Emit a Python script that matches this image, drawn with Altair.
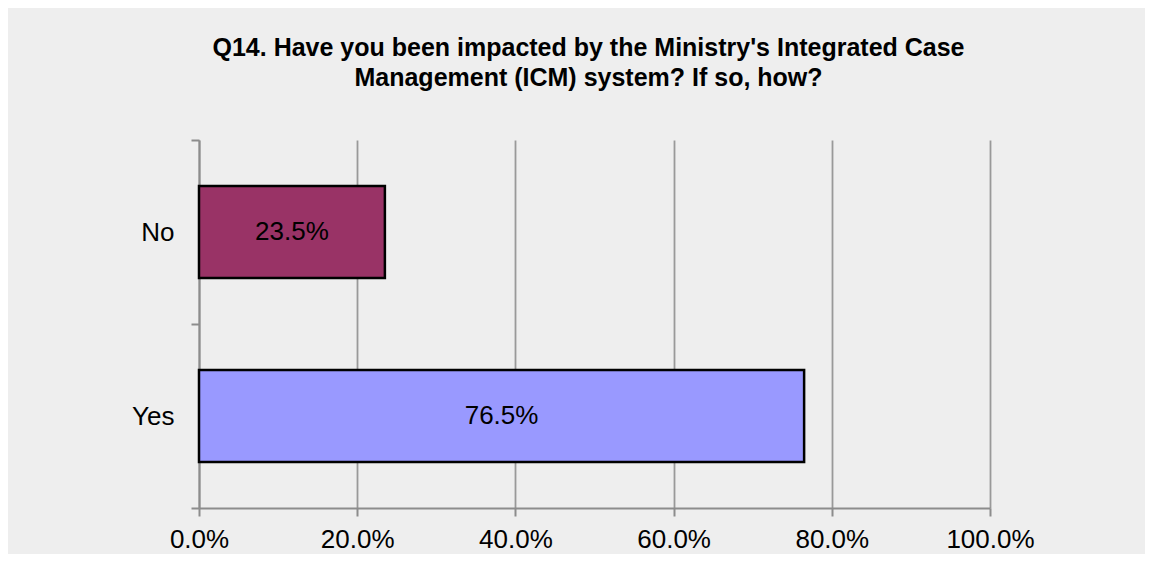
import altair as alt
import pandas as pd

categories = ["No", "Yes"]
values = [23.5, 76.5]
colors = ["#993366", "#9999FF"]
x_ticks = [0, 20, 40, 60, 80, 100]
title_lines = ["Q14. Have you been impacted by the Ministry's Integrated Case",
               "Management (ICM) system? If so, how?"]

df = pd.DataFrame({"cat": categories, "val": values, "color": colors})
df["label"] = [f"{v:.1f}%" for v in values]

FONT = "Liberation Sans"

x_enc = alt.X("val:Q",
              scale=alt.Scale(domain=[0, 100], nice=False, zero=True),
              axis=alt.Axis(values=x_ticks, title=None,
                            labelExpr="format(datum.value, '.1f') + '%'",
                            grid=True, gridColor="#999999", gridWidth=1.8,
                            domainColor="#8c8c8c", domainWidth=2,
                            tickColor="#8c8c8c", tickWidth=2, tickSize=8,
                            labelFontSize=26, labelFont=FONT, labelColor="#000000",
                            labelPadding=10, labelFlush=False))
y_enc = alt.Y("cat:N", sort=categories,
              scale=alt.Scale(paddingInner=0, paddingOuter=0),
              axis=alt.Axis(title=None, tickBand="extent", grid=False,
                            domainColor="#8c8c8c", domainWidth=2,
                            tickColor="#8c8c8c", tickWidth=2, tickSize=8,
                            labelFontSize=26, labelFont=FONT, labelColor="#000000",
                            labelPadding=17))

bars = alt.Chart(df).mark_bar(stroke="#000000", strokeWidth=2.5,
                              height=alt.RelativeBandSize(0.5)).encode(
    x=x_enc,
    y=y_enc,
    color=alt.Color("color:N", scale=None),
)

text = alt.Chart(df).transform_calculate(mid="datum.val / 2").mark_text(
    fontSize=26, font=FONT, color="#000000", baseline="middle", align="center"
).encode(
    x=alt.X("mid:Q"),
    y=alt.Y("cat:N", sort=categories),
    text="label:N",
)

chart = alt.layer(bars, text).properties(
    width=791, height=368,
    title=alt.TitleParams(text=title_lines, font=FONT, fontSize=25, fontWeight="bold",
                          color="#000000", lineHeight=30, anchor="middle",
                          offset=36, dx=-6),
    autosize=alt.AutoSizeParams(type="none"),
    padding={"left": 191, "top": 132, "right": 155, "bottom": 46},
    background="#EEEEEE",
).configure_view(stroke=None)

chart.save("out.html", embed_options={"renderer": "svg", "actions": False})
